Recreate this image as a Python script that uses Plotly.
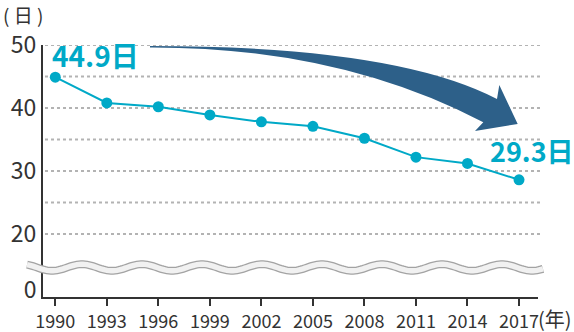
import math
import plotly.graph_objects as go

# ---- data ----
years = [1990, 1993, 1996, 1999, 2002, 2005, 2008, 2011, 2014, 2017]
days = [44.9, 40.8, 40.2, 38.9, 37.8, 37.1, 35.2, 32.2, 31.2, 28.6]
y_tick_vals = [11.1, 20, 30, 40, 50]
y_tick_text = ["0", "20", "30", "40", "50"]
grid_vals = [20, 25, 30, 35, 40, 45, 50]
first_label = "44.9日"
last_label = "29.3日"

# ---- layout geometry (pixels) ----
W, H = 574, 332
L, R, T, B = 43, 36, 45, 35
PW, PH = W - L - R, H - T - B
TEAL = "#00A9C7"
NAVY = "#2D6089"
FONT = "Noto Sans CJK JP"


def px(x):
    return (x - L) / PW


def py(y):
    return (H - B - y) / PH


fig = go.Figure()
fig.add_trace(go.Scatter(
    x=years, y=days, mode="lines+markers",
    line=dict(color=TEAL, width=2),
    marker=dict(color=TEAL, size=11),
    cliponaxis=False, hoverinfo="skip", showlegend=False,
))

shapes = []
# dotted gridlines
for g in grid_vals:
    shapes.append(dict(type="line", xref="paper", yref="y", x0=px(45), x1=px(541),
                       y0=g, y1=g, line=dict(color="#b3b3b3", width=2, dash="dot"),
                       layer="below"))

# curved arrow (decoration)
pts = [("M", (150, 46)), ("Q", (395, 46), (497, 99)), ("L", (499.3, 85)),
       ("L", (517.7, 124)), ("L", (475, 131)), ("L", (483.3, 122.3)),
       ("Q", (339, 47), (150, 47.5))]
path = ""
for item in pts:
    cmd = item[0]
    coords = " ".join(f"{px(a):.5f},{py(b):.5f}" for a, b in item[1:])
    path += f"{cmd} {coords} "
path += "Z"
shapes.append(dict(type="path", xref="paper", yref="paper", path=path,
                   fillcolor=NAVY, line=dict(width=0), layer="above"))

# axis break wave (decoration)
wave = []
x = 27.0
while x <= 543.0:
    yy = 267.5 + 3.3 * math.cos(2 * math.pi * (x - 52) / 60)
    wave.append((x, yy))
    x += 2
wpath = "M " + " L ".join(f"{px(a):.5f},{py(b):.5f}" for a, b in wave)
shapes.append(dict(type="path", xref="paper", yref="paper", path=wpath,
                   line=dict(color="#a3a3a3", width=8), layer="above"))
shapes.append(dict(type="path", xref="paper", yref="paper", path=wpath,
                   line=dict(color="#f1f1f1", width=5.4), layer="above"))

annotations = [
    dict(text="( 日 )", xref="paper", yref="paper", x=px(1), y=py(15),
         xanchor="left", yanchor="middle", showarrow=False,
         font=dict(family=FONT, size=19, color="#333333")),
    dict(text="(年)", xref="paper", yref="paper", x=px(536), y=py(318),
         xanchor="left", yanchor="middle", showarrow=False,
         font=dict(family=FONT, size=20, color="#333333")),
    dict(text=f"<b>{first_label}</b>", xref="paper", yref="paper", x=px(50), y=py(55),
         xanchor="left", yanchor="middle", showarrow=False,
         font=dict(family=FONT, size=28, color=TEAL)),
    dict(text=f"<b>{last_label}</b>", xref="paper", yref="paper", x=px(576), y=py(150),
         xanchor="right", yanchor="middle", showarrow=False,
         font=dict(family=FONT, size=27, color=TEAL)),
]

fig.update_layout(
    width=W, height=H,
    margin=dict(l=L, r=R, t=T, b=B, pad=0, autoexpand=False),
    paper_bgcolor="white", plot_bgcolor="white",
    font=dict(family=FONT, color="#333333"),
    shapes=shapes, annotations=annotations,
    xaxis=dict(range=[1989.284, 2018.106], tickvals=years, automargin=False,
               ticks="outside", ticklen=7, tickwidth=2, tickcolor="#333333",
               showline=True, linecolor="#333333", linewidth=2,
               showgrid=False, zeroline=False,
               tickfont=dict(family=FONT, size=18, color="#333333")),
    yaxis=dict(range=[10.0, 50.0], tickvals=y_tick_vals, ticktext=y_tick_text,
               automargin=False,
               ticks="", showline=True, linecolor="#333333", linewidth=2,
               showgrid=False, zeroline=False, ticklabelstandoff=0,
               tickfont=dict(family=FONT, size=23, color="#333333")),
)

fig.write_html("out.html")
